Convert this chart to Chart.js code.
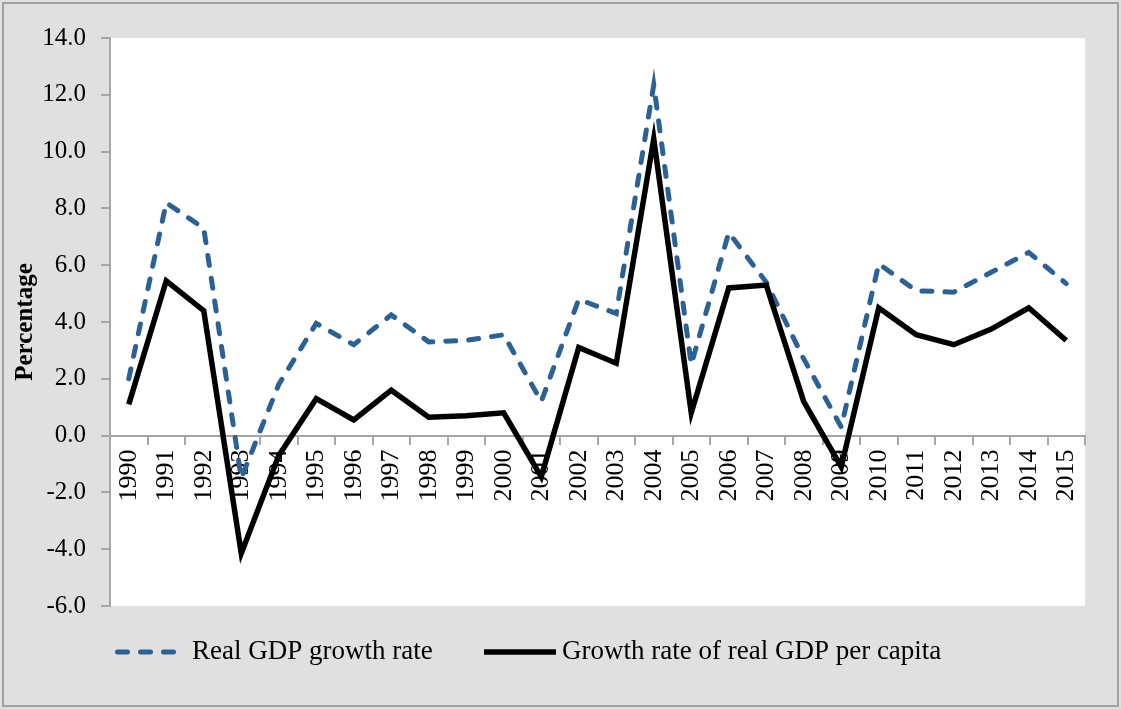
<!DOCTYPE html>
<html>
<head>
<meta charset="utf-8">
<script src="https://cdn.jsdelivr.net/npm/chart.js@4/dist/chart.umd.min.js"></script>
<style>
    html, body { margin: 0; padding: 0; background: #ffffff; }
    #wrap { width: 1121px; height: 709px; }
</style>
</head>
<body>
<div id="wrap"><canvas id="gdpChart"></canvas></div>
<script>
/* data */
const years = ["1990", "1991", "1992", "1993", "1994", "1995", "1996", "1997", "1998", "1999",
    "2000", "2001", "2002", "2003", "2004", "2005", "2006", "2007", "2008", "2009",
    "2010", "2011", "2012", "2013", "2014", "2015"];

const realGdpGrowth = [2.0, 8.2, 7.3, -1.5, 1.8, 3.95, 3.2, 4.25, 3.3, 3.35,
    3.55, 1.2, 4.8, 4.3, 12.35, 2.5, 7.15, 5.4, 2.7, 0.3,
    6.05, 5.1, 5.05, 5.75, 6.45, 5.35];

const perCapitaGrowth = [1.1, 5.45, 4.4, -4.15, -0.7, 1.3, 0.55, 1.6, 0.65, 0.7,
    0.8, -1.45, 3.1, 2.55, 10.45, 0.8, 5.2, 5.3, 1.2, -1.1,
    4.5, 3.55, 3.2, 3.75, 4.5, 3.35];

const seriesNames = ["Real GDP growth rate", "Growth rate of real GDP per capita"];
const yTitle = "Percentage";

const blue = "#2c6195";
const axisGray = "#a6a6a6";
const serif = "'Liberation Serif', 'DejaVu Serif', serif";

/* background: gray frame + white plot area */
const backgroundPlugin = {
    id: "backgroundPlugin",
    beforeDraw(chart) {
        const ctx = chart.ctx;
        const area = chart.chartArea;
        ctx.save();
        ctx.fillStyle = "#e0e0e0";
        ctx.fillRect(0, 0, chart.width, chart.height);
        ctx.strokeStyle = "#a0a0a0";
        ctx.lineWidth = 2;
        ctx.strokeRect(3, 3, chart.width - 6, chart.height - 6);
        ctx.fillStyle = "#ffffff";
        ctx.fillRect(area.left, area.top, area.right - area.left, area.bottom - area.top);
        ctx.restore();
    }
};

/* legend drawn under the plot */
const legendPlugin = {
    id: "legendPlugin",
    afterDraw(chart) {
        const ctx = chart.ctx;
        const y = 652;
        ctx.save();
        ctx.lineWidth = 5;

        ctx.strokeStyle = blue;
        ctx.lineCap = "round";
        ctx.setLineDash([10, 13]);
        ctx.beginPath();
        ctx.moveTo(117.5, y);
        ctx.lineTo(178, y);
        ctx.stroke();

        ctx.setLineDash([]);
        ctx.lineCap = "butt";
        ctx.strokeStyle = "#000000";
        ctx.lineWidth = 5.5;
        ctx.beginPath();
        ctx.moveTo(484, y);
        ctx.lineTo(556, y);
        ctx.stroke();

        ctx.fillStyle = "#000000";
        ctx.font = "27px " + serif;
        ctx.textBaseline = "middle";
        ctx.textAlign = "left";
        ctx.fillText(seriesNames[0], 192, y);
        ctx.fillText(seriesNames[1], 562, y);
        ctx.restore();
    }
};

const gdpChart = new Chart(document.querySelector("#gdpChart"), {
    type: "line",
    data: {
        labels: years,
        datasets: [
            {
                label: seriesNames[0],
                data: realGdpGrowth,
                borderColor: blue,
                borderWidth: 5,
                borderDash: [10, 13],
                borderCapStyle: "round",
                pointRadius: 0,
                tension: 0,
                order: 1
            },
            {
                label: seriesNames[1],
                data: perCapitaGrowth,
                borderColor: "#000000",
                borderWidth: 5.5,
                pointRadius: 0,
                tension: 0,
                order: 0
            }
        ]
    },
    options: {
        responsive: true,
        maintainAspectRatio: false,
        animation: false,
        layout: {
            padding: { top: 38, right: 36, bottom: 103, left: 0 }
        },
        plugins: {
            legend: { display: false },
            tooltip: { enabled: false }
        },
        scales: {
            x: {
                type: "category",
                position: { y: 0 },
                offset: true,
                afterFit(scale) {
                    scale.height = 0;
                },
                grid: {
                    offset: true,
                    drawOnChartArea: false,
                    tickLength: 8,
                    color: axisGray,
                    lineWidth: 2
                },
                border: { color: axisGray, width: 2 },
                ticks: {
                    minRotation: 90,
                    maxRotation: 90,
                    autoSkip: false,
                    padding: 6,
                    color: "#000000",
                    font: { family: serif, size: 26 }
                }
            },
            y: {
                min: -6,
                max: 14,
                afterFit(scale) {
                    scale.width = 110;
                },
                grid: {
                    drawOnChartArea: false,
                    tickLength: 9,
                    color: axisGray,
                    lineWidth: 2
                },
                border: { color: axisGray, width: 2 },
                ticks: {
                    stepSize: 2,
                    padding: 15,
                    color: "#000000",
                    font: { family: serif, size: 25 },
                    callback: value => value.toFixed(1)
                },
                title: {
                    display: true,
                    text: yTitle,
                    color: "#000000",
                    padding: { top: 11, bottom: 0 },
                    font: { family: serif, size: 25, weight: "bold" }
                }
            }
        }
    },
    plugins: [backgroundPlugin, legendPlugin]
});
</script>
</body>
</html>
